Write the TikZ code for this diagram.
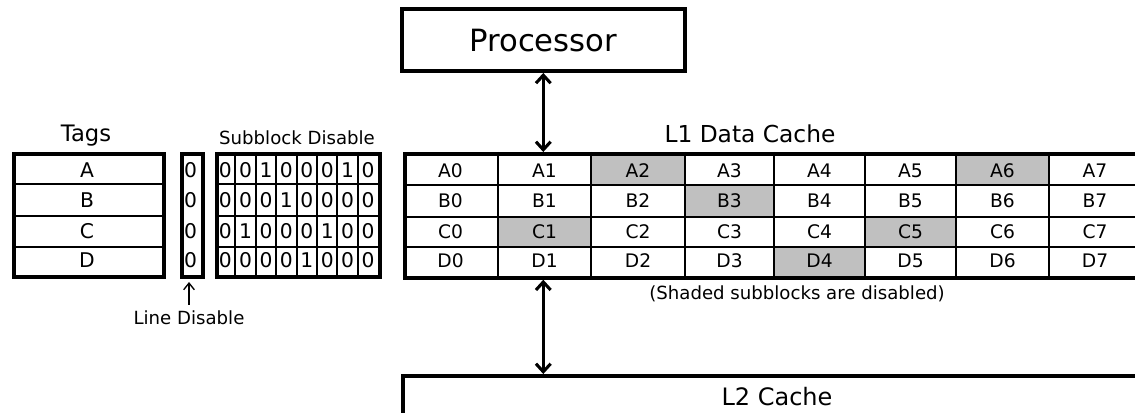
\documentclass[tikz,border=0pt]{standalone}
\usepackage{fontspec}
\setmainfont{DejaVu Sans}
\usetikzlibrary{arrows.meta}
\definecolor{shadegray}{HTML}{C0C0C0}
\tikzset{
  outerline/.style={line width=2.8pt},
  innerline/.style={line width=1.9pt},
  thinline/.style={line width=1.5pt},
  celltext/.style={anchor=base,inner sep=0pt,font=\fontsize{14}{16}\selectfont},
  tagtext/.style={anchor=base,inner sep=0pt,font=\fontsize{15.2}{18}\selectfont},
  lbl/.style={anchor=base,inner sep=0pt},
  bigarrow/.style={line width=2.3pt,{Straight Barb[length=6pt,width=11pt]}-{Straight Barb[length=6pt,width=11pt]}},
  smallarrow/.style={line width=1pt,-{Straight Barb[length=5pt,width=8pt]}}
}
\begin{document}
\begin{tikzpicture}[x=0.75pt,y=-0.75pt]
\useasboundingbox (0,0) rectangle (1135,413);
\clip (0,0) rectangle (1135,413);
\def\cx{{403,498,591,685,774,865,956,1049,1141}}
\def\ry{{152,185,217,247,276}}
\def\rb{{178,208,239,268}}

% Processor
\node[draw,outerline,minimum width=212.3pt,minimum height=46.3pt,inner sep=0pt,
      font=\fontsize{23}{26}\selectfont] (proc) at (543.3,40.2) {Processor};

% L1 data cache: shading
\foreach \r/\c in {0/2,0/6,1/3,2/1,2/5,3/4}{
  \pgfmathsetmacro\xa{\cx[\c]}\pgfmathsetmacro\xb{\cx[\c+1]}
  \pgfmathsetmacro\ya{\ry[\r]}\pgfmathsetmacro\yb{\ry[\r+1]}
  \fill[shadegray] (\xa,\ya) rectangle (\xb,\yb);
}
\foreach \c in {1,...,7}{
  \pgfmathsetmacro\xa{\cx[\c]}
  \draw[innerline] (\xa,152) -- (\xa,276);
}
\foreach \r in {1,2,3}{
  \pgfmathsetmacro\ya{\ry[\r]}
  \draw[innerline] (403,\ya) -- (1141,\ya);
}
\node[draw,outerline,anchor=north west,inner sep=0pt,minimum width=553.5pt,minimum height=93pt] (l1) at (403,152) {};
\foreach \r/\R in {0/A,1/B,2/C,3/D}{
  \foreach \c in {0,...,7}{
    \pgfmathsetmacro\xa{\cx[\c]}
    \pgfmathsetmacro\xb{\cx[\c+1]}
    \pgfmathsetmacro\xm{(\xa+\xb)/2}
    \pgfmathsetmacro\yb{\rb[\r]}
    \node[celltext] (cell\R\c) at (\xm,\yb) {\R\c};
  }
}
\node[lbl,font=\fontsize{17.5}{21}\selectfont] (l1title) at (750,143) {L1 Data Cache};
\node[lbl,font=\fontsize{13.6}{16}\selectfont] (shadenote) at (797,300) {(Shaded subblocks are disabled)};

% Tags
\foreach \y in {184,216,247}{\draw[innerline] (12,\y) -- (162,\y);}
\node[draw,outerline,anchor=north west,inner sep=0pt,minimum width=112.5pt,minimum height=92.3pt] (tags) at (12,152) {};
\node[lbl,font=\fontsize{17}{20}\selectfont] (tagstitle) at (86,142) {Tags};
\foreach \r/\R in {0/A,1/B,2/C,3/D}{
  \pgfmathsetmacro\yb{\rb[\r]}
  \node[tagtext] (tag\R) at (87,\yb) {\R};
  \node[tagtext] (ld\R) at (190.5,\yb) {0};
}
% Line disable column
\node[draw,outerline,anchor=north west,inner sep=0pt,minimum width=15.75pt,minimum height=92.3pt] (ldcol) at (180,152) {};

% Subblock disable
\foreach \k in {1,...,7}{\draw[thinline] (215+20.4*\k,152) -- (215+20.4*\k,275);}
\foreach \y in {184,216,247}{\draw[thinline] (215,\y) -- (378,\y);}
\node[draw,outerline,anchor=north west,inner sep=0pt,minimum width=122.3pt,minimum height=92.3pt] (sb) at (215,152) {};
\node[lbl,font=\fontsize{13.6}{16}\selectfont] (sbtitle) at (297,145) {Subblock Disable};
\foreach \r/\R/\bits in {0/A/{0,0,1,0,0,0,1,0},1/B/{0,0,0,1,0,0,0,0},2/C/{0,1,0,0,0,1,0,0},3/D/{0,0,0,0,1,0,0,0}}{
  \pgfmathsetmacro\yb{\rb[\r]}
  \foreach \b [count=\k from 0] in \bits{
    \node[tagtext] (sb\R\k) at (225.2+20.4*\k,\yb) {\b};
  }
}

% Line disable label and arrow
\node[lbl,font=\fontsize{13.6}{16}\selectfont] (ldlabel) at (189,325) {Line Disable};
\coordinate (ldtip) at (189,282);
\coordinate (ldtail) at (189,305);
\draw[smallarrow] (ldtail) -- (ldtip);

% L2 cache
\node[draw,outerline,anchor=north west,inner sep=0pt,minimum width=600pt,minimum height=80pt] (l2) at (401,374) {};
\node[lbl,font=\fontsize{18}{22}\selectfont] (l2label) at (777,405) {L2 Cache};

% Connectors
\draw[bigarrow] (proc.south) -- (proc.south |- l1.north);
\draw[bigarrow] (proc.south |- l1.south) -- (proc.south |- l2.north);
\end{tikzpicture}
\end{document}
